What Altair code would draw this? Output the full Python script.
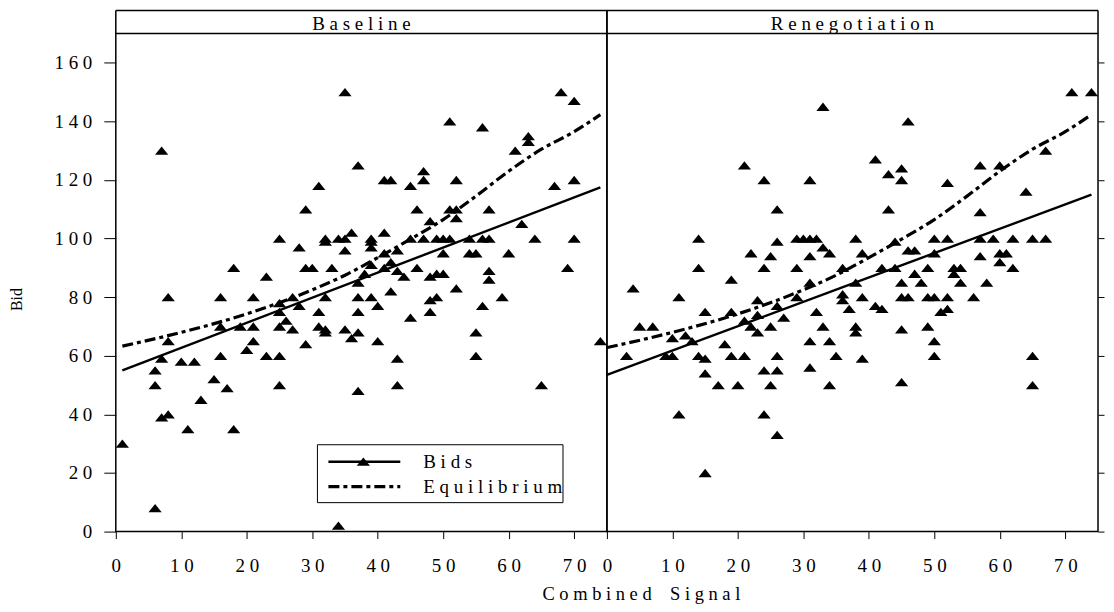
import altair as alt
import pandas as pd

# ---------------- data ----------------
panel_titles = ["Baseline", "Renegotiation"]
legend_labels = ["Bids", "Equilibrium"]
x_title = "Combined Signal"
y_title = "Bid"

base_x = [1, 6, 6, 6, 7, 7, 7, 8, 8, 8,
          10, 11, 12, 13, 15, 16, 16, 16, 17, 18, 18,
          19, 20, 21, 21, 21, 23, 23,
          25, 25, 25, 25, 25, 25, 26, 27, 27, 28, 28,
          29, 29, 29, 30, 31, 31, 31, 32, 32, 32, 32, 32,
          33, 34, 34, 35, 35, 35, 35, 36, 36,
          37, 37, 37, 37, 37, 37, 38,
          39, 39, 39, 39, 39, 40, 40,
          41, 41, 41, 41, 42, 42, 42,
          43, 43, 43, 43, 44, 45, 45, 45, 46, 46,
          47, 47, 47, 48, 48, 48, 48, 49, 49, 49, 50, 50, 50,
          51, 51, 51, 52, 52, 52, 52,
          54, 54, 55, 55, 55, 56, 56, 56, 57, 57, 57, 57,
          59, 60, 61, 62, 63, 63, 64, 65, 67, 68, 69, 70, 70, 70, 74]
base_y = [30, 8, 50, 55, 130, 59, 39, 40, 65, 80,
          58, 35, 58, 45, 52, 60, 70, 80, 49, 35, 90,
          70, 62, 65, 70, 80, 60, 87,
          50, 60, 70, 75, 78, 100, 72, 69, 80, 77, 97,
          64, 90, 110, 90, 70, 75, 118, 68, 69, 80, 99, 100,
          90, 2, 100, 69, 96, 100, 150, 66, 102,
          48, 68, 75, 80, 85, 125, 88,
          80, 91, 97, 99, 100, 65, 77,
          90, 95, 102, 120, 82, 92, 120,
          50, 59, 89, 96, 87, 73, 100, 118, 90, 110,
          100, 120, 123, 75, 79, 87, 106, 80, 88, 100, 88, 95, 100,
          100, 110, 140, 83, 107, 110, 120,
          95, 100, 60, 68, 95, 77, 100, 138, 86, 89, 100, 110,
          80, 95, 130, 105, 133, 135, 100, 50, 118, 150, 90, 100, 120, 147, 65]

reneg_x = [3, 4, 5, 7, 9, 10, 10, 11, 11, 12, 13, 14, 14, 14, 15, 15, 15, 15,
           17, 18, 19, 19, 19, 20, 21, 21, 21, 22, 22, 23, 23, 23,
           24, 24, 24, 24, 25, 25, 25, 26, 26, 26, 26, 26, 26, 27,
           29, 29, 29, 30, 31, 31, 31, 31, 31, 31, 32, 32,
           33, 33, 33, 34, 34, 34, 35, 36, 36, 36, 37,
           38, 38, 38, 38, 39, 39, 39, 41, 41, 42, 42, 43, 43,
           44, 44, 45, 45, 45, 45, 45, 45, 46, 46, 46, 47, 47,
           48, 49, 49, 49, 50, 50, 50, 50, 50, 51, 52, 52, 52, 52,
           53, 53, 54, 54, 56, 57, 57, 57, 57, 58, 59, 60, 60, 60,
           61, 62, 62, 64, 65, 65, 65, 67, 67, 71, 74]
reneg_y = [60, 83, 70, 70, 60, 60, 66, 40, 80, 67, 65, 60, 90, 100, 20, 54, 59, 75,
           50, 64, 60, 75, 86, 50, 60, 72, 125, 70, 95, 68, 74, 79,
           40, 55, 90, 120, 50, 70, 94, 33, 55, 60, 77, 99, 110, 73,
           80, 90, 100, 100, 56, 65, 85, 94, 100, 120, 75, 100,
           70, 97, 145, 50, 65, 95, 60, 79, 81, 90, 76,
           68, 70, 85, 100, 59, 80, 95, 77, 127, 76, 90, 110, 122,
           90, 99, 51, 69, 80, 85, 120, 124, 80, 96, 140, 88, 96,
           85, 70, 80, 90, 60, 65, 80, 95, 100, 75, 76, 80, 100, 119,
           88, 90, 85, 90, 80, 94, 100, 109, 125, 85, 100, 92, 95, 125,
           95, 90, 100, 116, 50, 60, 100, 100, 130, 150, 150]

# fitted bid lines (end points)
fit_base_x = [1, 74]
fit_base_y = [55, 117.5]
fit_reneg_x = [0, 74]
fit_reneg_y = [53.5, 115]

# equilibrium bid function
eq_base_x = [1, 10, 20, 30, 35, 40, 45, 50, 55, 60, 65, 70, 74]
eq_reneg_x = [0, 10, 20, 30, 35, 40, 45, 50, 55, 60, 65, 70, 74]
eq_base_y = [63.3, 68, 74.3, 82.5, 87.5, 93.5, 99.8, 106.5, 114.5, 123, 130.5, 136.5, 142.3]
eq_reneg_y = [62.8, 68, 74.3, 82.5, 87.5, 93.5, 99.8, 106.5, 114.5, 123, 130.5, 136.5, 142.3]

y_ticks = list(range(0, 170, 10))
x_ticks = list(range(0, 75, 5))

# ---------------- styling ----------------
FONT = "Liberation Serif"
TRI = "M-1,0.625L1,0.625L0,-0.625Z"
W, H, HEAD = 492, 499, 23
DASH = [11, 4, 4, 4]


def spaced(s):
    # letter-spaced text; word gaps kept with an en space so they do not collapse
    return " ".join("\u2002" if c == " " else c for c in s)


xscale = alt.Scale(domain=[0, 75], nice=False, zero=False)
yscale = alt.Scale(domain=[0, 170], nice=False, zero=False)
SPACE_EXPR = "join(split(datum.label, ''), ' ')"


def x_axis(with_title):
    kw = dict(
        values=x_ticks,
        labelExpr=f"datum.value % 10 == 0 ? {SPACE_EXPR} : ''",
        tickSize={"condition": {"test": "datum.value % 10 == 0", "value": 7}, "value": 4},
        tickColor="black", domain=False, grid=False,
        labelFont=FONT, labelFontSize=19, labelColor="black", labelPadding=18,
        labelFlush=False, labelOverlap=False,
    )
    if with_title:
        kw.update(title=spaced(x_title), titleFont=FONT, titleFontSize=18.5, titleFontWeight="normal",
                  titleColor="black", titleX=526, titleY=62, titleAnchor="start", titleAlign="center",
                  titleBaseline="middle")
    else:
        kw.update(title=None)
    return alt.Axis(**kw)


def y_axis(left):
    if left:
        return alt.Axis(
            values=y_ticks, orient="left",
            labelExpr=f"datum.value % 20 == 0 ? {SPACE_EXPR} : ''",
            tickSize={"condition": {"test": "datum.value % 20 == 0", "value": 12}, "value": 7},
            tickColor="black", domain=False, grid=False,
            labelFont=FONT, labelFontSize=19, labelColor="black", labelPadding=12,
            labelOverlap=False, labelFlush=False,
            title=y_title, titleFont=FONT, titleFontSize=16, titleFontWeight="normal",
            titleColor="black", titleX=-99, titleY=266, titleAngle=-90,
            titleAlign="center", titleBaseline="middle",
        )
    return alt.Axis(values=y_ticks, orient="right", labels=False, tickSize=6,
                    tickColor="black", domain=False, grid=False, title=None)


def panel(title, px, py, fx, fy, ex, ey, left):
    pts = pd.DataFrame({"x": px, "y": py})
    fit = pd.DataFrame({"x": fx, "y": fy})
    eq = pd.DataFrame({"x": ex, "y": ey})

    points = alt.Chart(pts).mark_point(shape=TRI, filled=True, size=176, color="black", opacity=1).encode(
        x=alt.X("x:Q", scale=xscale, axis=x_axis(left)),
        y=alt.Y("y:Q", scale=yscale, axis=y_axis(left)),
    )
    fit_line = alt.Chart(fit).mark_line(color="black", strokeWidth=2.4).encode(
        x=alt.X("x:Q", scale=xscale), y=alt.Y("y:Q", scale=yscale))
    eq_line = alt.Chart(eq).mark_line(color="black", strokeWidth=3.2, strokeDash=DASH,
                                      interpolate="monotone").encode(
        x=alt.X("x:Q", scale=xscale), y=alt.Y("y:Q", scale=yscale))

    hdr = alt.Data(values=[{"t": spaced(title)}])
    head_text = alt.Chart(hdr).mark_text(font=FONT, fontSize=19, color="black",
                                         baseline="alphabetic", align="center").encode(
        text="t:N", x=alt.value(W / 2), y=alt.value(-4))
    frame = dict(color="black", strokeWidth=1.5)
    head_top = alt.Chart(hdr).mark_rule(**frame).encode(
        x=alt.value(0), x2=alt.value(W), y=alt.value(-HEAD))
    head_l = alt.Chart(hdr).mark_rule(**frame).encode(
        x=alt.value(0), y=alt.value(-HEAD), y2=alt.value(0))
    head_r = alt.Chart(hdr).mark_rule(**frame).encode(
        x=alt.value(W), y=alt.value(-HEAD), y2=alt.value(0))

    layers = [points, fit_line, eq_line, head_text, head_top, head_l, head_r]

    if left:
        one = alt.Data(values=[{"k": 0}])
        box = alt.Chart(one).mark_rect(fill="white", stroke="black", strokeWidth=1).encode(
            x=alt.value(202), x2=alt.value(448), y=alt.value(412), y2=alt.value(470))
        l1 = alt.Chart(one).mark_rule(color="black", strokeWidth=2.4).encode(
            x=alt.value(213), x2=alt.value(285), y=alt.value(429))
        t1 = alt.Chart(one).mark_point(shape=TRI, filled=True, size=176, color="black", opacity=1).encode(
            x=alt.value(248), y=alt.value(429))
        l2 = alt.Chart(one).mark_rule(color="black", strokeWidth=3.2, strokeDash=DASH).encode(
            x=alt.value(213), x2=alt.value(285), y=alt.value(454))
        txt1 = alt.Chart(one).mark_text(text=spaced(legend_labels[0]), font=FONT, fontSize=19,
                                        align="left", baseline="middle", color="black").encode(
            x=alt.value(308), y=alt.value(429))
        txt2 = alt.Chart(one).mark_text(text=spaced(legend_labels[1]), font=FONT, fontSize=19,
                                        align="left", baseline="middle", color="black").encode(
            x=alt.value(308), y=alt.value(454))
        layers += [box, l1, t1, l2, txt1, txt2]

    return alt.layer(*layers).properties(width=W, height=H)


left = panel(panel_titles[0], base_x, base_y, fit_base_x, fit_base_y, eq_base_x, eq_base_y, True)
right = panel(panel_titles[1], reneg_x, reneg_y, fit_reneg_x, fit_reneg_y, eq_reneg_x, eq_reneg_y, False)

chart = alt.hconcat(left, right, spacing=0, bounds="flush").properties(
    padding={"left": 0, "top": 0, "right": 0, "bottom": 0},
    background="white",
).configure_view(stroke="black", strokeWidth=1.5)

chart.save("out.html", embed_options={"renderer": "svg", "actions": False})
